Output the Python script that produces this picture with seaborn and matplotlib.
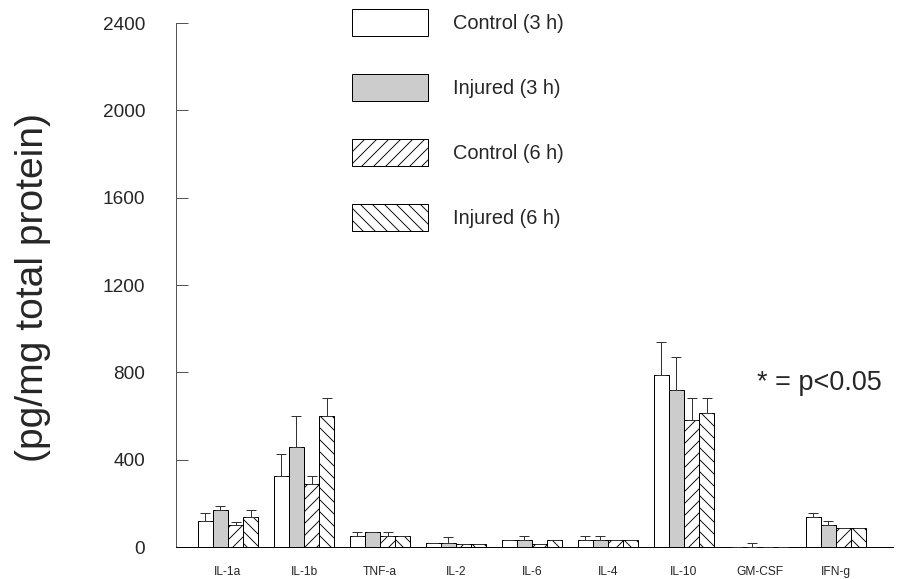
import matplotlib
matplotlib.use("Agg")
import matplotlib.pyplot as plt
import seaborn as sns
import numpy as np
import pandas as pd

cytokines = ["IL-1a", "IL-1b", "TNF-a", "IL-2", "IL-6", "IL-4", "IL-10", "GM-CSF", "IFN-g"]
groups = ["Control (3 h)", "Injured (3 h)", "Control (6 h)", "Injured (6 h)"]

ctrl3 = [120, 325, 52, 18, 34, 34, 786, 2, 138]
inj3 = [170, 460, 67, 18, 34, 34, 717, 2, 102]
ctrl6 = [101, 290, 52, 15, 15, 34, 582, 2, 86]
inj6 = [136, 598, 52, 15, 34, 34, 616, 2, 86]

ctrl3_err = [35, 103, 15, 0, 0, 16, 153, 0, 16]
inj3_err = [18, 138, 0, 30, 16, 16, 153, 16, 16]
ctrl6_err = [15, 35, 17, 0, 0, 0, 101, 0, 0]
inj6_err = [34, 85, 0, 0, 0, 0, 67, 0, 0]

yticks = [0, 400, 800, 1200, 1600, 2000, 2400]

values = [ctrl3, inj3, ctrl6, inj6]
errors = [ctrl3_err, inj3_err, ctrl6_err, inj6_err]
colors = ["white", "#cccccc", "white", "white"]
hatches = [None, None, "//", "\\\\"]

rows = []
for g, vals in zip(groups, values):
    for c, v in zip(cytokines, vals):
        rows.append({"cytokine": c, "group": g, "value": v})
df = pd.DataFrame(rows)

sns.set_style("white")
plt.rcParams["font.family"] = ["Liberation Sans", "DejaVu Sans"]
plt.rcParams["hatch.linewidth"] = 0.9
plt.rcParams["hatch.color"] = "black"

DPI = 72
fig = plt.figure(figsize=(907 / DPI, 579 / DPI), dpi=DPI)
ax = fig.add_axes([176 / 907, 1 - 547 / 579, 717 / 907, (547 - 23) / 579])

sns.barplot(data=df, x="cytokine", y="value", hue="group", order=cytokines,
            hue_order=groups, palette=colors, saturation=1, errorbar=None,
            edgecolor="black", linewidth=1, width=0.8, ax=ax, legend=False)

bar_conts = list(ax.containers)
for cont, h, err, vals in zip(bar_conts, hatches, errors, values):
    xs = []
    for p in cont.patches:
        if h:
            p.set_hatch(h)
        p.set_zorder(2)
        xs.append(p.get_x() + p.get_width() / 2)
    ax.errorbar(xs, vals, yerr=[np.zeros(len(err)), err], fmt="none",
                ecolor="#333333", elinewidth=1, capsize=5, capthick=1, zorder=3)

ax.set_xlim(-52 / 76, 8 + 57 / 76)
ax.set_ylim(0, 2400)
ax.set_yticks(yticks)
ax.set_yticklabels([str(t) for t in yticks], fontsize=19)
ax.tick_params(axis="y", direction="in", length=12, width=1, color="#555555", pad=31, left=True)
ax.tick_params(axis="x", length=0, pad=19, labelsize=12)
ax.set_xlabel("")
ax.set_ylabel("(pg/mg total protein)", fontsize=39)
ax.yaxis.set_label_coords((51 - 176) / 717, (547 - 287) / 524)

for s in ["top", "right"]:
    ax.spines[s].set_visible(False)
ax.spines["left"].set_color("#555555")
ax.spines["left"].set_linewidth(1)
ax.spines["bottom"].set_color("black")
ax.spines["bottom"].set_linewidth(1)

handles = [c.patches[0] for c in bar_conts]
fig.legend(handles, groups, loc="upper left",
           bbox_to_anchor=(352 / 907, 1 - 9 / 579), bbox_transform=fig.transFigure,
           frameon=False, fontsize=20, handlelength=3.8, handleheight=1.7,
           labelspacing=1.9, handletextpad=1.25, borderpad=0, borderaxespad=0)

fig.text(757 / 907, 1 - 383 / 579, "* = p<0.05", fontsize=27, va="center", ha="left")

fig.savefig("out.png", dpi=DPI)
